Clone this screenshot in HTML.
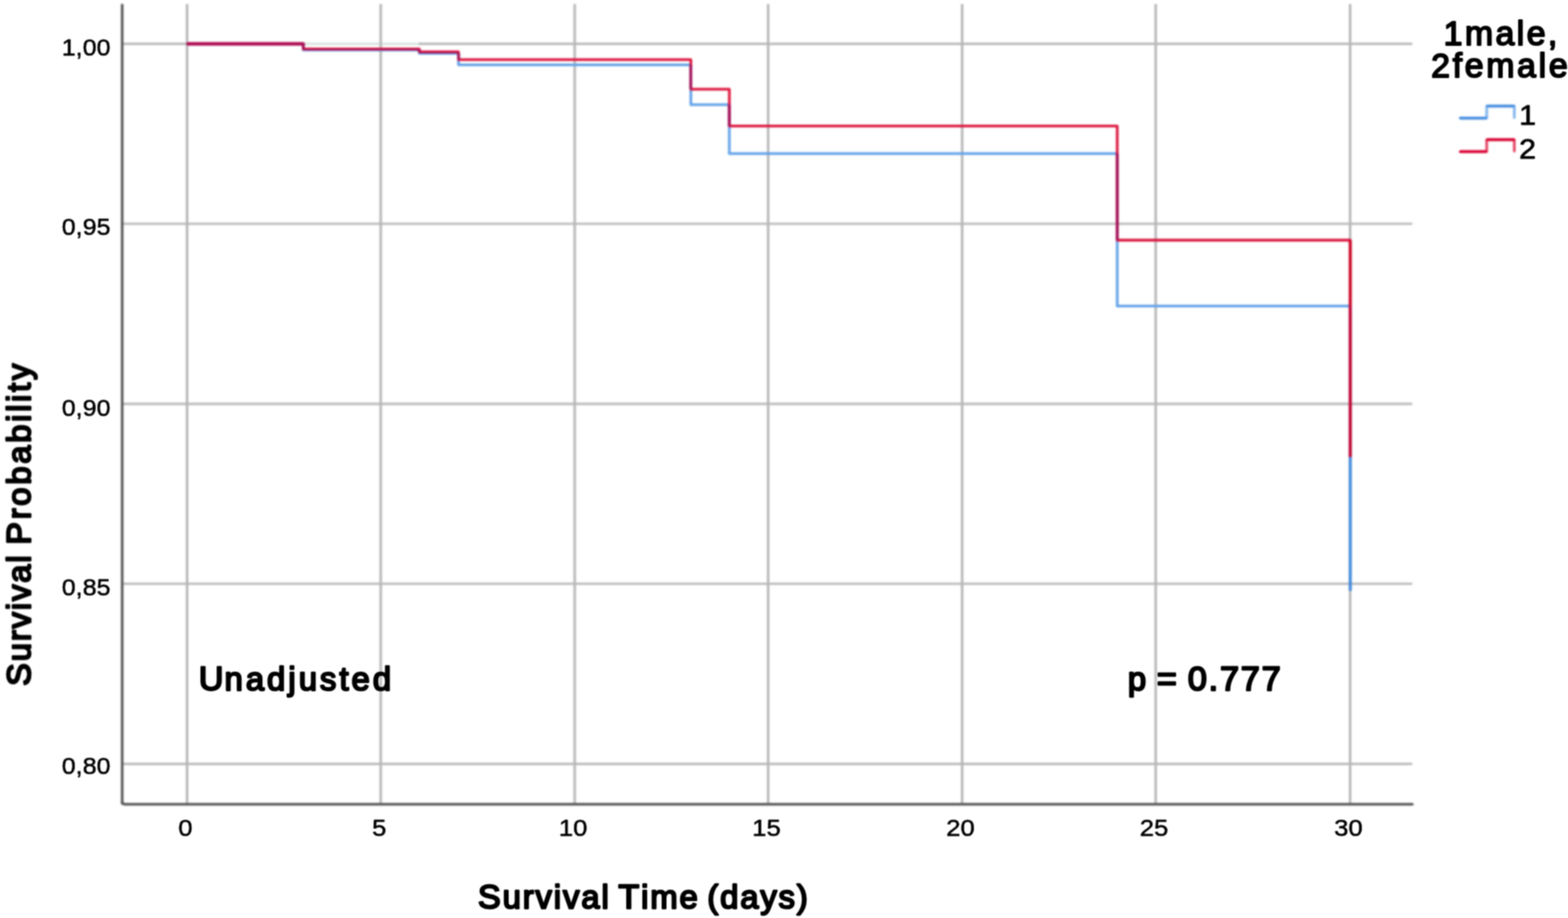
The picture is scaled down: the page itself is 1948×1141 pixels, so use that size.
<!DOCTYPE html>
<html lang="en">
<head>
<meta charset="utf-8">
<title>Kaplan-Meier survival curves by sex (1male, 2female)</title>
<style>
  html, body { margin: 0; padding: 0; background: #ffffff; }
  body { width: 1948px; height: 1141px; overflow: hidden; }
  svg { display: block; }
  text { font-family: "Liberation Sans", "DejaVu Sans", sans-serif; fill: #000000; }
  .tick { font-size: 30.2px; stroke: #000000; stroke-width: 0.6px; stroke-linejoin: round; }
  .semi { font-weight: normal; font-size: 40.6px; stroke: #000000; stroke-width: 2.5px; stroke-linejoin: round; letter-spacing: 3.6px; }
  .cap { font-size: 42.4px; }
</style>
</head>
<body>
<svg width="1948" height="1141" viewBox="0 0 1948 1141" role="img" aria-label="Kaplan-Meier survival probability over survival time in days, by sex">
  <defs>
    <filter id="soft" x="0" y="0" width="1948" height="1141" filterUnits="userSpaceOnUse" color-interpolation-filters="sRGB">
      <feGaussianBlur stdDeviation="0.9"/>
    </filter>
    <filter id="softt" x="0" y="0" width="1948" height="1141" filterUnits="userSpaceOnUse" color-interpolation-filters="sRGB">
      <feConvolveMatrix order="3" kernelMatrix="1 2 1 2 4 2 1 2 1" divisor="16" edgeMode="duplicate" preserveAlpha="false"/>
    </filter>
  </defs>
  <rect x="0" y="0" width="1948" height="1141" fill="#ffffff"/>
  <g id="chart-lines" filter="url(#soft)">
  <g id="grid" fill="none">
    <g stroke="#bababa" stroke-width="2.8">
      <line x1="151.8" y1="54.5" x2="1754.5" y2="54.5"/>
      <line x1="151.8" y1="278.1" x2="1754.5" y2="278.1"/>
      <line x1="151.8" y1="502.0" x2="1754.5" y2="502.0"/>
      <line x1="151.8" y1="725.7" x2="1754.5" y2="725.7"/>
      <line x1="151.8" y1="949.5" x2="1754.5" y2="949.5"/>
      <line x1="378.7" y1="54.5" x2="520.0" y2="54.5" stroke="#d8e5e0" stroke-width="3.2"/>
    </g>
    <g stroke="#b6b6b6" stroke-width="3.1">
      <line x1="232.4" y1="5.0" x2="232.4" y2="999.6"/>
      <line x1="473.0" y1="5.0" x2="473.0" y2="999.6"/>
      <line x1="714.0" y1="5.0" x2="714.0" y2="999.6"/>
      <line x1="954.3" y1="5.0" x2="954.3" y2="999.6"/>
      <line x1="1195.3" y1="5.0" x2="1195.3" y2="999.6"/>
      <line x1="1435.8" y1="5.0" x2="1435.8" y2="999.6"/>
      <line x1="1677.3" y1="5.0" x2="1677.3" y2="999.6"/>
    </g>
  </g>
  <g id="axes" fill="none" stroke-width="3.1" stroke-linecap="round">
    <line stroke="#505050" x1="151.8" y1="6.0" x2="151.8" y2="998.6"/>
    <path stroke="#585858" d="M151.8,996.6 Q151.8,999.6 154.8,999.6 L1754.8,999.6"/>
  </g>
  <g id="curves" fill="none" stroke-width="3.3" stroke-linejoin="round">
    <polyline id="curve-1-male" stroke="#62a2e8" points="232.4,54.5 376.7,54.5 376.7,62.0 521.0,62.0 521.0,66.3 569.6,66.3 569.6,80.6 858.3,80.6 858.3,130.2 906.1,130.2 906.1,190.9 1388.0,190.9 1388.0,380.4 1677.5,380.4 1677.5,734.3"/>
    <polyline id="curve-2-female" stroke="#dc143c" points="232.4,54.5 376.7,54.5 376.7,60.8 521.0,60.8 521.0,64.5 569.6,64.5 569.6,74.2 858.3,74.2 858.3,110.8 906.1,110.8 906.1,156.6 1388.0,156.6 1388.0,298.5 1677.5,298.5 1677.5,568.0"/>
    <g id="overlap" stroke="#a3125a">
      <line x1="233.4" y1="54.5" x2="376.7" y2="54.5" stroke="#b00a50" stroke-width="4.0" stroke-linecap="round"/>
      <line x1="376.7" y1="61.4" x2="521.0" y2="61.4" stroke="#b00a50" stroke-width="1.8"/>
      <line x1="521.0" y1="65.4" x2="569.6" y2="65.4" stroke="#b00a50" stroke-width="1.2"/>
      <line x1="376.7" y1="54.5" x2="376.7" y2="60.8"/>
      <line x1="521.0" y1="62.0" x2="521.0" y2="64.5"/>
      <line x1="569.6" y1="66.3" x2="569.6" y2="74.2"/>
      <line x1="858.3" y1="80.6" x2="858.3" y2="110.8"/>
      <line x1="906.1" y1="130.2" x2="906.1" y2="156.6"/>
      <line x1="1388.0" y1="190.9" x2="1388.0" y2="298.5"/>
      <line x1="1677.5" y1="298.5" x2="1677.5" y2="380.4" stroke="#cc0022" stroke-width="3.5"/>
      <line x1="1677.5" y1="380.4" x2="1677.5" y2="568.0" stroke="#c2002c" stroke-width="3.5"/>
      <line x1="1677.5" y1="568.0" x2="1677.5" y2="734.3" stroke="#4187dd" stroke-width="3.5"/>
    </g>
  </g>
  <g id="legend-swatches" fill="none" stroke-width="3.3" stroke-linejoin="round" stroke-linecap="round">
    <polyline stroke="#62a2e8" stroke-opacity="0.8" points="1814.3,146.8 1847.0,146.8 1847.0,131.8 1881.3,131.8 1881.3,146.2"/>
    <path stroke="#4a8fe0" stroke-width="3.5" d="M1814.3,146.8 H1846 M1848,131.8 H1880.5"/>
    <polyline stroke="#dc143c" stroke-opacity="0.8" points="1814.3,188.4 1847.0,188.4 1847.0,173.6 1881.3,173.6 1881.3,187.8"/>
    <path stroke="#d8002f" stroke-width="3.5" d="M1814.3,188.4 H1846 M1848,173.6 H1880.5"/>
  </g>
  </g>
  <g id="labels" filter="url(#softt)">
  <g class="tick" text-anchor="end">
    <text transform="translate(137.3,69.45) scale(1.03,1)">1,00</text>
    <text transform="translate(137.3,291.75) scale(1.03,1)">0,95</text>
    <text transform="translate(137.3,517.35) scale(1.03,1)">0,90</text>
    <text transform="translate(137.3,739.90) scale(1.03,1)">0,85</text>
    <text transform="translate(137.3,962.10) scale(1.03,1)">0,80</text>
  </g>
  <g class="tick" text-anchor="middle">
    <text transform="translate(230.4,1038.6) scale(1.055,1)">0</text>
    <text transform="translate(471.0,1038.6) scale(1.055,1)">5</text>
    <text transform="translate(712.0,1038.6) scale(1.055,1)">10</text>
    <text transform="translate(952.3,1038.6) scale(1.055,1)">15</text>
    <text transform="translate(1193.3,1038.6) scale(1.055,1)">20</text>
    <text transform="translate(1433.8,1038.6) scale(1.055,1)">25</text>
    <text transform="translate(1675.3,1038.6) scale(1.055,1)">30</text>
  </g>
  <g class="semi">
    <text transform="translate(593.8,1128.8)" letter-spacing="2.4" word-spacing="-4"><tspan class="cap">S</tspan>urvival <tspan class="cap">T</tspan>ime (days)</text>
    <text transform="translate(37.8,852.6) rotate(-90)" word-spacing="-3"><tspan letter-spacing="2.4"><tspan class="cap">S</tspan>urvival </tspan><tspan letter-spacing="3.45"><tspan class="cap">P</tspan>robability</tspan></text>
    <text transform="translate(247.0,858.4)" letter-spacing="3.85"><tspan class="cap" letter-spacing="1.4">U</tspan>nadjusted</text>
    <text transform="translate(1401.3,858.1)" letter-spacing="2.3" word-spacing="-2.6">p <tspan class="cap">= 0.777</tspan></text>
  </g>
  <g id="legend">
    <g class="semi" style="font-size:42px;stroke-width:2.1px">
      <text x="1793.6" y="56.4" letter-spacing="3.0">1male,</text>
      <text x="1777.9" y="95.9" letter-spacing="3.4">2female</text>
    </g>
    <g font-size="34.3" stroke="#000000" stroke-width="0.8" stroke-linejoin="round">
      <text transform="translate(1887.3,154.9) scale(1.1,1)">1</text>
      <text transform="translate(1887.3,197.3) scale(1.1,1)">2</text>
    </g>
  </g>
  </g>
</svg>
</body>
</html>
